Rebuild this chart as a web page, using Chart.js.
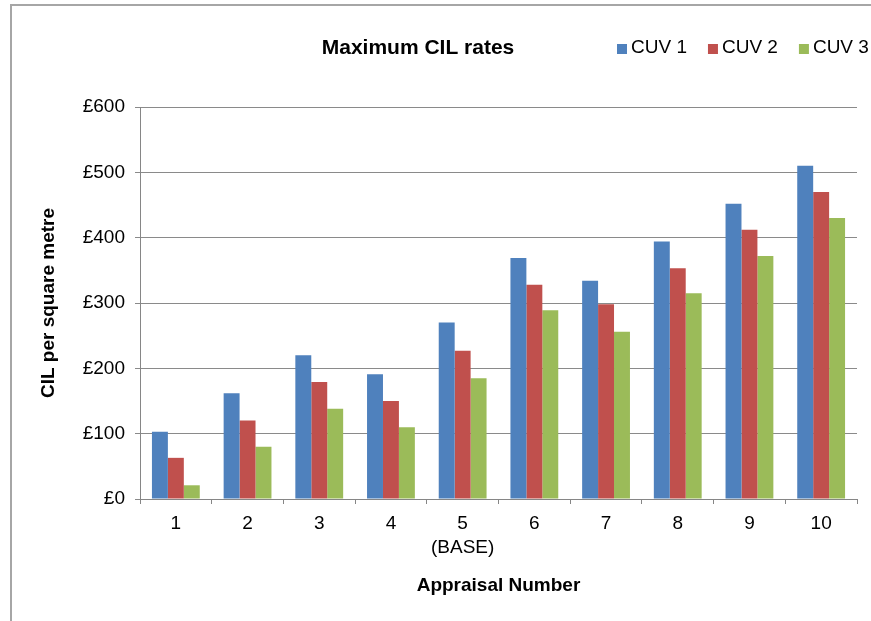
<!DOCTYPE html>
<html>
<head>
<meta charset="utf-8">
<script src="https://cdn.jsdelivr.net/npm/chart.js@4/dist/chart.umd.min.js"></script>
<style>
  body { margin: 0; background: #fff; }
  #wrap { width: 871px; height: 621px; }
</style>
</head>
<body>
<div id="wrap"><canvas id="cilChart"></canvas></div>
<script>
// ** Data **
const appraisals = ["1", "2", "3", "4", ["5", "(BASE)"], "6", "7", "8", "9", "10"];
const seriesNames = ["CUV 1", "CUV 2", "CUV 3"];
const cuv1 = [103, 162, 220, 191, 270, 369, 334, 394, 452, 510];
const cuv2 = [63, 120, 179, 150, 227, 328, 298, 353, 412, 470];
const cuv3 = [21, 80, 138, 110, 185, 289, 256, 315, 372, 430];
const yTicks = [0, 100, 200, 300, 400, 500, 600];

const colours = ["#4F81BD", "#C0504D", "#9BBB59"];
const fontFamily = "'Liberation Sans', Arial, sans-serif";

// ** Frame, title and legend drawn on the canvas **
const framePlugin = {
    id: "frame",
    beforeDraw(chart) {
        const ctx = chart.ctx;
        ctx.save();
        ctx.strokeStyle = "#a6a6a6";
        ctx.lineWidth = 2;
        ctx.beginPath();
        ctx.moveTo(11, 621);
        ctx.lineTo(11, 5);
        ctx.lineTo(871, 5);
        ctx.stroke();
        ctx.restore();
    },
    afterDraw(chart) {
        const ctx = chart.ctx;
        ctx.save();
        ctx.fillStyle = "#000";
        ctx.textBaseline = "middle";
        ctx.textAlign = "center";
        ctx.font = "bold 21px " + fontFamily;
        ctx.fillText("Maximum CIL rates", 418, 48);

        // legend
        ctx.font = "19px " + fontFamily;
        ctx.textAlign = "left";
        let x = 617;
        chart.data.datasets.forEach(ds => {
            ctx.fillStyle = ds.backgroundColor;
            ctx.fillRect(x, 44, 10, 10);
            ctx.fillStyle = "#000";
            ctx.fillText(ds.label, x + 14, 48);
            x += 14 + ctx.measureText(ds.label).width + 21;
        });
        ctx.restore();
    }
};

const ctx = document.getElementById("cilChart").getContext("2d");
new Chart(ctx, {
    type: "bar",
    data: {
        labels: appraisals,
        datasets: [cuv1, cuv2, cuv3].map((values, i) => ({
            label: seriesNames[i],
            data: values,
            backgroundColor: colours[i],
            categoryPercentage: 0.667,
            barPercentage: 1.0
        }))
    },
    options: {
        responsive: true,
        maintainAspectRatio: false,
        animation: false,
        layout: { padding: { top: 107, right: 14, bottom: 0, left: 30 } },
        plugins: { legend: { display: false }, title: { display: false }, tooltip: { enabled: false } },
        scales: {
            x: {
                offset: true,
                grid: { offset: true, drawOnChartArea: false, tickLength: 5, color: "#868686" },
                border: { color: "#868686" },
                ticks: { color: "#000", padding: 7, font: { family: fontFamily, size: 19, lineHeight: 1.3 } },
                title: {
                    display: true,
                    text: "Appraisal Number",
                    color: "#000",
                    font: { family: fontFamily, size: 19, weight: "bold", lineHeight: 1.2 },
                    padding: { top: 0, bottom: 24 }
                },
                afterFit(scale) { scale.height = 122; }
            },
            y: {
                min: 0,
                max: 600,
                afterBuildTicks(scale) { scale.ticks = yTicks.map(v => ({ value: v })); },
                grid: { tickLength: 5, color: "#8a8a8a" },
                border: { color: "#868686" },
                ticks: {
                    color: "#000",
                    padding: 10,
                    font: { family: fontFamily, size: 19 },
                    callback: value => "£" + value
                },
                title: {
                    display: true,
                    text: "CIL per square metre",
                    color: "#000",
                    font: { family: fontFamily, size: 19, weight: "bold", lineHeight: 1.2 },
                    padding: { top: 7, bottom: 0 }
                },
                afterFit(scale) { scale.width = 110; }
            }
        }
    },
    plugins: [framePlugin]
});
</script>
</body>
</html>
